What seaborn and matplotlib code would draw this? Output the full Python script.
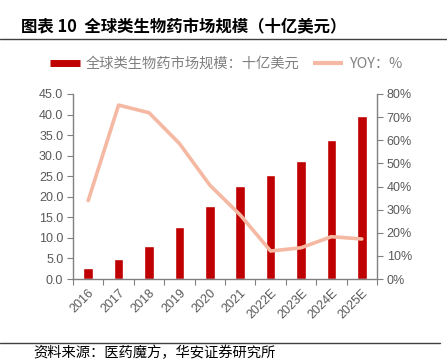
import matplotlib
matplotlib.use("Agg")
import matplotlib.pyplot as plt
import numpy as np
import pandas as pd
import seaborn as sns
from matplotlib.lines import Line2D
from matplotlib.ticker import FixedLocator, PercentFormatter

# Data
years = ["2016", "2017", "2018", "2019", "2020", "2021", "2022E", "2023E", "2024E", "2025E"]
market_size = [2.76, 4.78, 8.1, 12.7, 17.8, 22.7, 25.4, 28.8, 33.8, 39.7]   # 十亿美元
yoy = [33.9, 75.2, 71.9, 58.6, 40.6, 27.7, 12.1, 13.5, 18.3, 17.3]         # %

bar_color = "#C00000"
line_color = "#F5B8A2"
text_gray = "#595959"
spine_gray = "#808080"

sns.set_theme(style="white")
plt.rcParams["font.family"] = ["Liberation Sans", "Noto Sans CJK SC", "DejaVu Sans"]

df = pd.DataFrame({"year": years, "size": market_size, "yoy": yoy, "pos": np.arange(len(years))})

fig = plt.figure(figsize=(4.47, 3.61), dpi=100)
ax = fig.add_axes([73 / 447, 82 / 361, 304 / 447, 185 / 361])

sns.barplot(data=df, x="year", y="size", color=bar_color, width=0.31,
            saturation=1, ax=ax)

ax2 = ax.twinx()
sns.lineplot(data=df, x="pos", y="yoy", color=line_color, linewidth=2.6, ax=ax2)

ax.set_xlim(-0.5, len(years) - 0.5)
ax.set_ylim(0, 45)
ax.set_yticks(np.arange(0, 45.1, 5))
ax.set_yticklabels([f"{v:.1f}" for v in np.arange(0, 45.1, 5)])
ax2.set_ylim(0, 80)
ax2.set_yticks(np.arange(0, 81, 10))
ax2.yaxis.set_major_formatter(PercentFormatter(decimals=0))

ax.set_xticks(np.arange(len(years)))
ax.set_xticklabels(years, rotation=45, ha="right", rotation_mode="anchor")
ax.xaxis.set_minor_locator(FixedLocator(np.arange(-0.5, len(years), 1)))
ax.tick_params(axis="x", which="major", length=0, pad=6, labelsize=9, labelcolor=text_gray)
ax.tick_params(axis="x", which="minor", bottom=True, length=4, width=0.8, color=spine_gray)
ax.tick_params(axis="y", left=True, length=4, width=0.8, color=spine_gray,
               labelsize=9, labelcolor=text_gray, pad=3)
ax2.tick_params(axis="y", right=True, length=4, width=0.8, color=spine_gray,
                labelsize=9, labelcolor=text_gray, pad=3)

ax.set_xlabel("")
ax.set_ylabel("")
ax2.set_xlabel("")
ax2.set_ylabel("")

for a in (ax, ax2):
    a.spines["top"].set_visible(False)
    for s in ("left", "right", "bottom"):
        a.spines[s].set_color(spine_gray)
        a.spines[s].set_linewidth(1.0)
ax.spines["right"].set_visible(False)
ax2.spines["left"].set_visible(False)
ax2.spines["bottom"].set_visible(False)

# Title and separators
fig.text(21 / 447, 1 - 27 / 361, "图表 10  全球类生物药市场规模（十亿美元）",
         fontsize=11.8, fontweight="bold", color="#000000", va="center",
         family=["Noto Sans CJK SC", "DejaVu Sans"])
fig.add_artist(Line2D([0, 1], [1 - 39 / 361, 1 - 39 / 361], color="#404040", lw=1.0))
fig.add_artist(Line2D([0, 0.985], [1 - 342.5 / 361, 1 - 342.5 / 361], color="#404040", lw=1.0))
fig.text(33 / 447, 1 - 353 / 361, "资料来源：医药魔方，华安证券研究所",
         fontsize=10.3, color="#000000", va="center",
         family=["Noto Sans CJK SC", "DejaVu Sans"])

# Legend
handles = [Line2D([], [], color=bar_color, lw=5, solid_capstyle="butt"),
           Line2D([], [], color=line_color, lw=3, solid_capstyle="butt")]
labels = ["全球类生物药市场规模：十亿美元", "YOY：%"]
leg = fig.legend(handles, labels, loc="center", bbox_to_anchor=(226 / 447, 1 - 64 / 361),
                 ncol=2, frameon=False, handlelength=2.1, handletextpad=0.4,
                 columnspacing=1.0, prop={"family": ["Noto Sans CJK SC", "DejaVu Sans"], "size": 10.3})
for t in leg.get_texts():
    t.set_color("#808080")

fig.savefig("out.png", dpi=100)
plt.close()
